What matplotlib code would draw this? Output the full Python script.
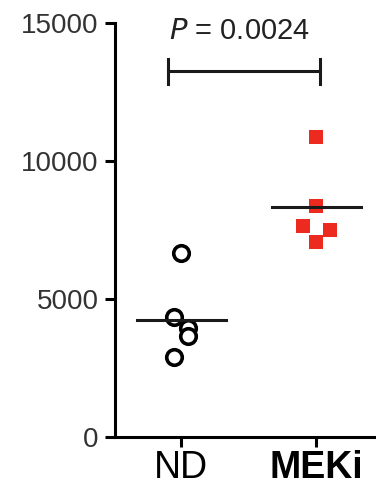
import matplotlib
matplotlib.use('Agg')
import matplotlib.pyplot as plt

#==================================================================================================
# Data
#==================================================================================================
groups = ['ND', 'MEKi']
nd_x = [1.0, 0.95, 1.05, 1.05, 0.95]
nd_values = [6670, 4350, 3950, 3650, 2900]
meki_x = [2.0, 2.0, 1.9, 2.1, 2.0]
meki_values = [10870, 8370, 7650, 7500, 7070]
group_lines = [4240, 8330]
p_text = '$\\it{P}$ = 0.0024'
p_height = 13250
y_ticks = [0, 5000, 10000, 15000]

plt.rcParams['font.family'] = ['Liberation Sans', 'DejaVu Sans']

fig = plt.figure(figsize=(3.76, 4.88), dpi=100)
ax = fig.add_axes([0.306, 0.1045, 0.694, 0.8485])

# points
ax.scatter(nd_x, nd_values, s=125, facecolors='white', edgecolors='black',
           linewidths=2.6, zorder=3)
ax.scatter(meki_x, meki_values, s=100, marker='s', color='#ec2a1f',
           linewidths=0, zorder=3)

# group lines
for i, val in enumerate(group_lines):
    ax.plot([i + 1 - 0.33, i + 1 + 0.33], [val, val], color='#1a1a1a', lw=2.2, zorder=4)

# significance bracket
left_end, right_end = 0.904, 2.03
ax.plot([left_end, right_end], [p_height, p_height], color='#1a1a1a', lw=2.2)
for xc in [left_end, right_end]:
    ax.plot([xc, xc], [p_height - 450, p_height + 450], color='#1a1a1a', lw=2.2)
ax.text(1.43, 14700, p_text, ha='center', va='center', fontsize=21, color='#222222')

ax.set_xlim(0.511, 2.444)
ax.set_ylim(0, 15000)
ax.set_yticks(y_ticks)
ax.set_yticklabels([str(t) for t in y_ticks], fontsize=20, color='#333333')
ax.set_xticks([1, 2])
ax.set_xticklabels(groups, fontsize=27)
ax.get_xticklabels()[1].set_fontweight('bold')

for side in ['top', 'right']:
    ax.spines[side].set_visible(False)
for side in ['left', 'bottom']:
    ax.spines[side].set_linewidth(2.2)
ax.tick_params(width=2.2, length=7, direction='out')
ax.tick_params(axis='y', pad=5)
ax.tick_params(axis='x', pad=2)

fig.savefig('out.png', dpi=100)
